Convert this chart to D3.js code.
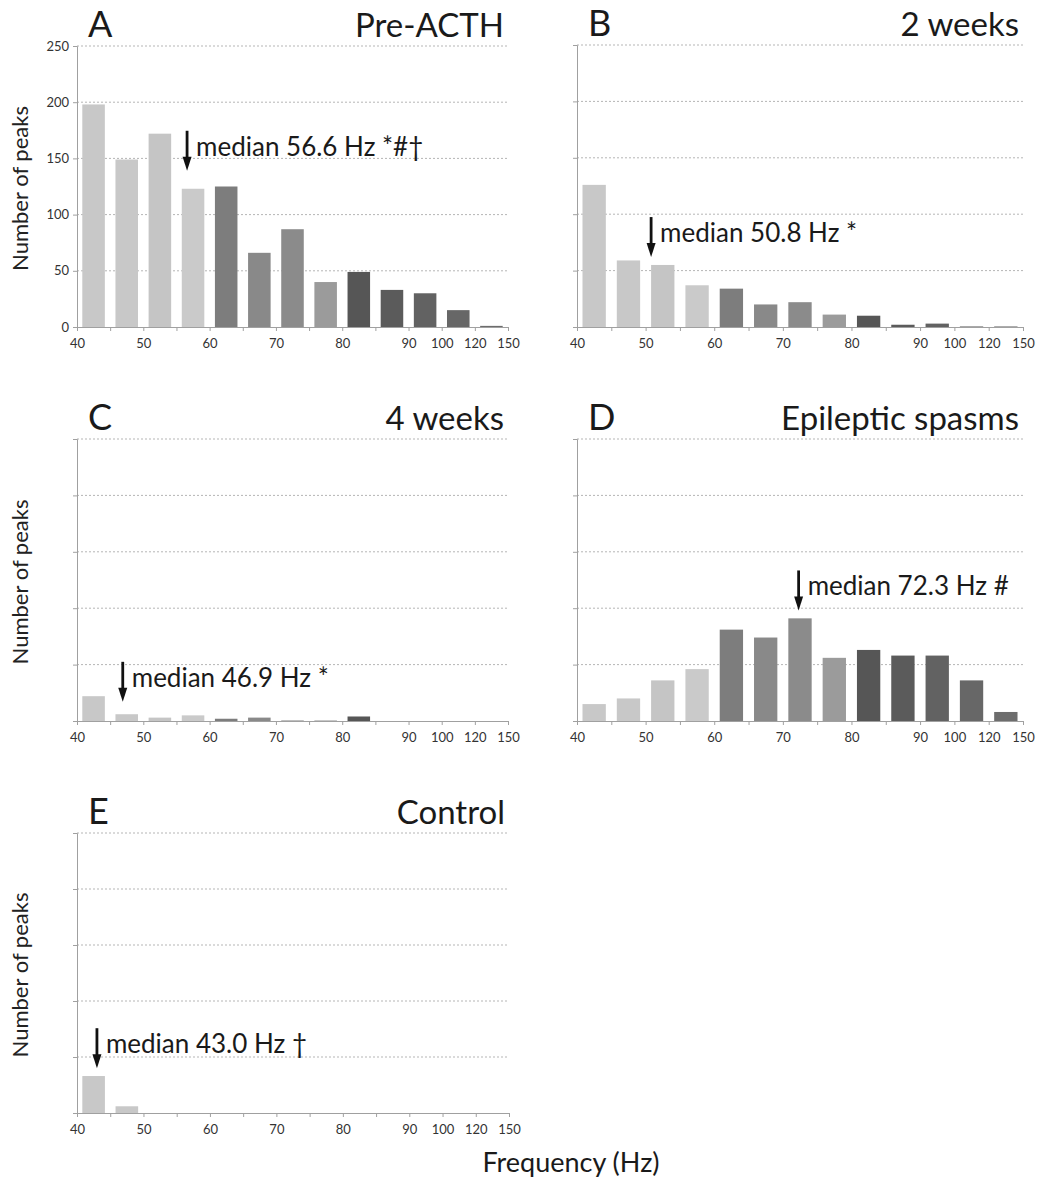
<!DOCTYPE html>
<html>
<head>
<meta charset="utf-8">
<script src="https://cdn.jsdelivr.net/npm/d3@7"></script>
<style>
  html, body { margin: 0; padding: 0; background: #fff; }
  svg { display: block; font-family: Lato, "Open Sans", sans-serif; }
</style>
</head>
<body>
<svg id="chart" width="1043" height="1181"></svg>
<script>
// Frequency bin edges (Hz) and which boundaries carry a label
const edges = [40, 45, 50, 55, 60, 65, 70, 75, 80, 85, 90, 100, 120, 150];
const tickLabels = ["40", "", "50", "", "60", "", "70", "", "80", "", "90", "100", "120", "150"];
const yTicks = [0, 50, 100, 150, 200, 250];

// Number of HFO peaks per frequency bin
const preACTH  = [198, 149, 172, 123, 125, 66, 87, 40, 49, 33, 30, 15, 1];
const weeks2   = [126, 59, 55, 37, 34, 20, 22, 11, 10, 2, 3, 0.5, 0.5];
const weeks4   = [22, 6, 3, 5, 2, 3, 0.5, 0.5, 4, 0, 0, 0, 0];
const spasms   = [15, 20, 36, 46, 81, 74, 91, 56, 63, 58, 58, 36, 8];
const control  = [33, 6, 0, 0, 0, 0, 0, 0, 0, 0, 0, 0, 0];

// Median frequency of each group and its significance marks
const medians  = [56.6, 50.8, 46.9, 72.3, 43.0];
const medianMarks = ["*#†", "*", "*", "#", "†"];
// Value (peaks) at which each median arrow points
const arrowTips = [139, 62, 17, 98, 40];

const panelLetters = ["A", "B", "C", "D", "E"];
const panelNames = ["Pre-ACTH", "2 weeks", "4 weeks", "Epileptic spasms", "Control"];
const series = [preACTH, weeks2, weeks4, spasms, control];

// Bar shading by bin
const binColors = ["#c8c8c8", "#c8c8c8", "#c5c5c5", "#cacaca", "#7d7d7d", "#898989",
                   "#8b8b8b", "#9b9b9b", "#565656", "#5b5b5b", "#626262", "#676767", "#6d6d6d"];

// Plot frames for the five panels
const frames = [
  { left: 77,  right: 508,  top: 46,  bottom: 327,  yLabels: true,  yTitle: true },
  { left: 577, right: 1023, top: 45,  bottom: 327,  yLabels: false, yTitle: false },
  { left: 77,  right: 508,  top: 439, bottom: 721,  yLabels: false, yTitle: true },
  { left: 577, right: 1023, top: 439, bottom: 721,  yLabels: false, yTitle: false },
  { left: 77,  right: 509,  top: 833, bottom: 1113, yLabels: false, yTitle: true }
];

const svg = d3.select("#chart");

frames.forEach((f, p) => {
  const values = series[p];
  const bins = d3.range(values.length);
  const g = svg.append("g");

  // Piecewise-linear frequency scale: every bin gets equal width
  const xFreq = d3.scaleLinear()
    .domain(edges)
    .range(edges.map((_, i) => f.left + i * (f.right - f.left) / (edges.length - 1)));
  const xBand = d3.scaleBand().domain(bins).range([f.left, f.right])
    .paddingInner(0.32).paddingOuter(0.16);
  const y = d3.scaleLinear().domain([0, 250]).range([f.bottom, f.top]);

  // Dotted gridlines
  g.append("g")
    .selectAll("line")
    .data(yTicks.filter(t => t > 0))
    .join("line")
    .attr("x1", f.left).attr("x2", f.right)
    .attr("y1", d => y(d)).attr("y2", d => y(d))
    .attr("stroke", "#b5b5b5")
    .attr("stroke-width", 1)
    .attr("stroke-dasharray", "2,2");

  // Bars
  g.append("g")
    .selectAll("rect")
    .data(values)
    .join("rect")
    .attr("x", (d, i) => xBand(i))
    .attr("width", xBand.bandwidth())
    .attr("y", d => y(d))
    .attr("height", d => y(0) - y(d))
    .attr("fill", (d, i) => binColors[i]);

  // Left axis
  const yAxis = d3.axisLeft(y).tickValues(yTicks).tickSize(4).tickPadding(4)
    .tickFormat(f.yLabels ? d3.format("d") : () => "");
  const ya = g.append("g").attr("transform", `translate(${f.left},0)`).call(yAxis);
  ya.select(".domain").attr("stroke", "#a0a0a0");
  ya.selectAll(".tick line").attr("stroke", "#a0a0a0");
  ya.selectAll(".tick text").attr("fill", "#333").attr("font-size", 13)
    .attr("font-family", "Lato, sans-serif");

  // Bottom axis
  const xAxis = d3.axisBottom(xFreq).tickValues(edges).tickSize(4).tickPadding(8)
    .tickFormat((d, i) => tickLabels[i]);
  const xa = g.append("g").attr("transform", `translate(0,${f.bottom})`).call(xAxis);
  xa.select(".domain").attr("stroke", "#a0a0a0");
  xa.selectAll(".tick line").attr("stroke", "#a0a0a0");
  xa.selectAll(".tick text").attr("fill", "#333").attr("font-size", 13)
    .attr("font-family", "Lato, sans-serif");

  // Panel letter and group name
  g.append("text")
    .attr("x", f.left + 11).attr("y", f.top - 9)
    .attr("font-size", 36).attr("fill", "#1a1a1a")
    .text(panelLetters[p]);
  g.append("text")
    .attr("x", f.right - 4).attr("y", f.top - 9)
    .attr("text-anchor", "end")
    .attr("font-size", 33).attr("fill", "#1a1a1a")
    .text(panelNames[p]);

  // Y-axis title
  if (f.yTitle) {
    g.append("text")
      .attr("transform", `translate(28,${(f.top + f.bottom) / 2 + 2}) rotate(-90)`)
      .attr("text-anchor", "middle")
      .attr("font-size", 22).attr("fill", "#222")
      .text("Number of peaks");
  }

  // Median arrow and label
  const mx = xFreq(medians[p]);
  const tipY = y(arrowTips[p]);
  g.append("line")
    .attr("x1", mx).attr("x2", mx)
    .attr("y1", tipY - 40).attr("y2", tipY - 12)
    .attr("stroke", "#111").attr("stroke-width", 2.8);
  g.append("path")
    .attr("d", d3.line()([[mx - 4.5, tipY - 14], [mx + 4.5, tipY - 14], [mx, tipY]]) + "Z")
    .attr("fill", "#111");
  g.append("text")
    .attr("x", mx + 9).attr("y", tipY - 15)
    .attr("font-size", 26).attr("fill", "#1a1a1a")
    .text(`median ${medians[p].toFixed(1)} Hz ${medianMarks[p]}`);
});

// Shared x-axis title
svg.append("text")
  .attr("x", 571).attr("y", 1172)
  .attr("text-anchor", "middle")
  .attr("font-size", 27).attr("fill", "#1a1a1a")
  .text("Frequency (Hz)");
</script>
</body>
</html>
